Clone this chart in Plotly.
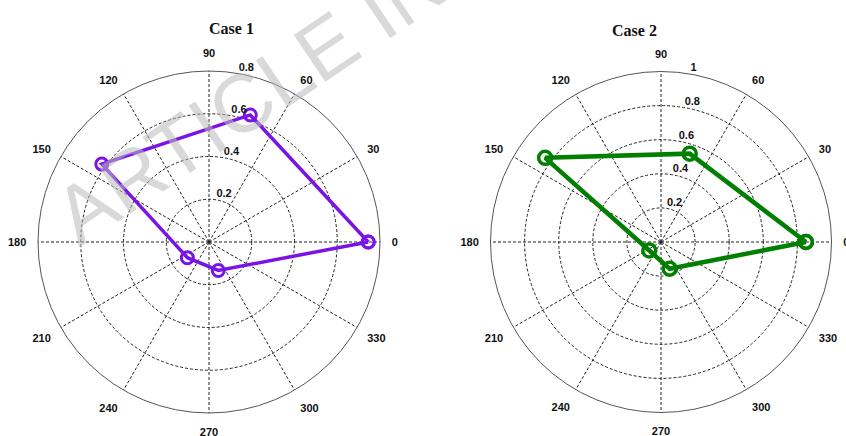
import plotly.graph_objects as go

# Five directions, 72 degrees apart
directions = [0, 72, 144, 216, 288]
case1_r = [0.745, 0.625, 0.62, 0.125, 0.14]
case2_r = [0.85, 0.545, 0.84, 0.085, 0.165]

angle_ticks = list(range(0, 360, 30))
angle_labels = [str(a) for a in angle_ticks]
case1_rticks = [0.2, 0.4, 0.6, 0.8]
case2_rticks = [0.2, 0.4, 0.6, 0.8, 1.0]
case1_rlabels = ["0.2", "0.4", "0.6", "0.8"]
case2_rlabels = ["0.2", "0.4", "0.6", "0.8", "1"]
rlabel_angle = 80

purple = "#7A14E6"
green = "#007F00"

W, H = 846, 436
label_font = dict(family="Liberation Sans, Arial", size=11, color="#111")


def closed(vals):
    return list(vals) + [vals[0]]


fig = go.Figure()
fig.add_trace(go.Scatterpolar(
    r=closed(case1_r), theta=closed(directions), mode="lines+markers",
    line=dict(color=purple, width=3.5),
    marker=dict(symbol="circle-open", size=12, color=purple, line=dict(width=3)),
    subplot="polar", showlegend=False))
fig.add_trace(go.Scatterpolar(
    r=closed(case2_r), theta=closed(directions), mode="lines+markers",
    line=dict(color=green, width=4.5),
    marker=dict(symbol="circle-open", size=13, color=green, line=dict(width=3.5)),
    subplot="polar2", showlegend=False))

# radial tick labels, written beside each ring
for sp, ticks, labels in (("polar", case1_rticks, case1_rlabels),
                          ("polar2", case2_rticks, case2_rlabels)):
    fig.add_trace(go.Scatterpolar(
        r=ticks, theta=[rlabel_angle] * len(ticks), mode="text",
        text=[f"<b>{t}</b>" for t in labels], textposition="top right",
        textfont=label_font, subplot=sp, showlegend=False, hoverinfo="skip"))

grid = dict(gridcolor="#222", gridwidth=1, griddash="3px,2px")


def polar_cfg(dom_x, rmax, rticks):
    return dict(
        domain=dict(x=dom_x, y=[(194 - 171) / H, (194 + 171) / H]),
        bgcolor="white",
        angularaxis=dict(
            rotation=0, direction="counterclockwise",
            tickmode="array", tickvals=angle_ticks,
            ticktext=[f"<b>{t}</b>" for t in angle_labels],
            ticks="outside", ticklen=9, tickcolor="rgba(0,0,0,0)",
            tickfont=label_font, showline=True, linecolor="#555", linewidth=1,
            **grid),
        radialaxis=dict(
            range=[0, rmax], tickmode="array", tickvals=rticks,
            showticklabels=False, ticks="", showline=False, **grid),
    )


title_font = dict(family="Liberation Serif, Times New Roman", size=16, color="#111")

fig.update_layout(
    width=W, height=H,
    margin=dict(l=0, r=0, t=0, b=0),
    paper_bgcolor="white",
    polar=polar_cfg([38 / W, 380 / W], 0.8, case1_rticks),
    polar2=polar_cfg([490.5 / W, 831.5 / W], 1.0, case2_rticks),
    annotations=[
        dict(text="<b>Case 1</b>", x=207 / W, y=1 - 18 / H, xref="paper", yref="paper",
             showarrow=False, font=title_font),
        dict(text="<b>Case 2</b>", x=659 / W, y=1 - 20 / H, xref="paper", yref="paper",
             showarrow=False, font=title_font),
        dict(text="ARTICLE IN PRESS", x=374 / W, y=1 - 14 / H, xref="paper", yref="paper",
             xanchor="center", yanchor="middle",
             textangle=-34, showarrow=False,
             font=dict(family="Liberation Sans, Arial", size=82, color="rgba(185,185,185,0.55)")),
    ],
)

fig.write_html("out.html")
